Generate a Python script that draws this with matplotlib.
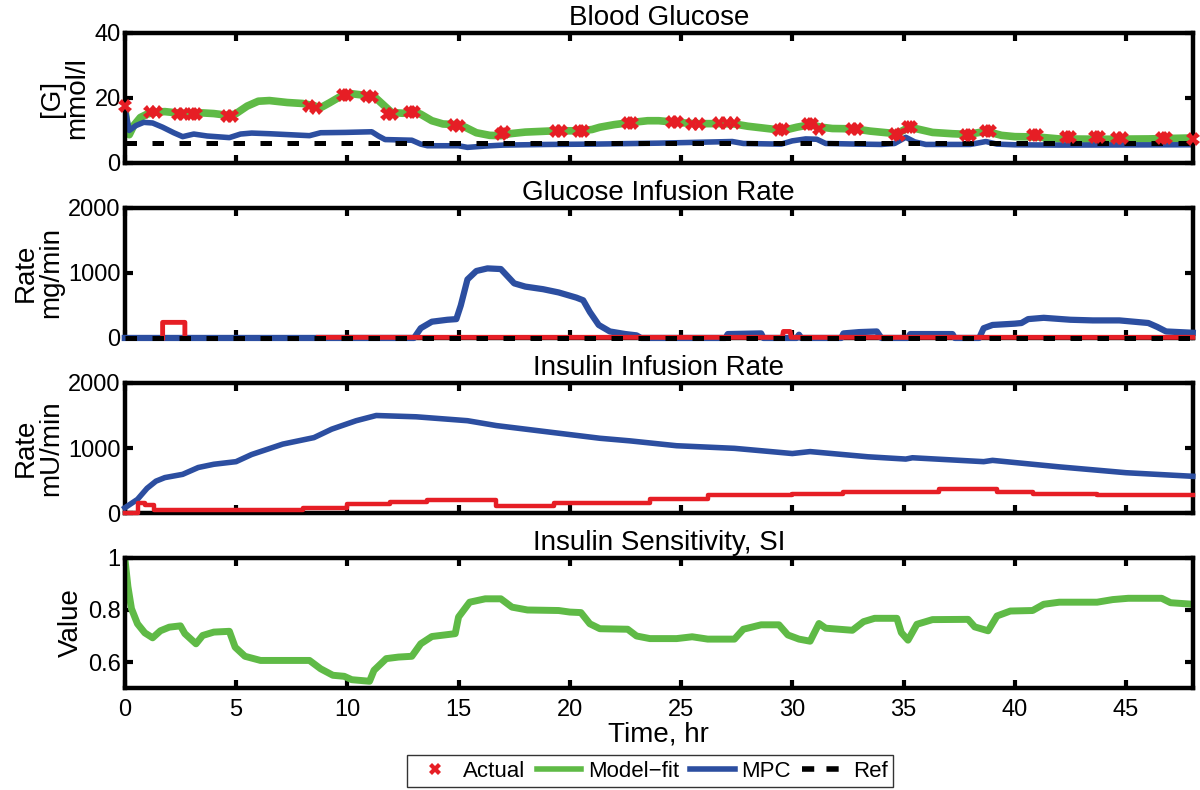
import numpy as np
import matplotlib
matplotlib.use("Agg")
import matplotlib.pyplot as plt
from matplotlib.lines import Line2D
from matplotlib.ticker import FuncFormatter

plt.rcParams['font.family'] = ['Liberation Sans', 'DejaVu Sans']

# colours
GREEN = '#5fba46'
BLUE = '#2c4ea0'
RED = '#e61e25'

# ---- Blood glucose (mmol/l) ----
bg_actual_t = [0, 1.15, 1.4, 2.4, 2.6, 3.0, 3.2, 4.6, 4.8, 8.3, 8.6, 9.8, 10.0, 10.9, 11.1,
               11.8, 12.0, 12.8, 13.0, 14.8, 15.0, 16.9, 17.05, 19.4, 19.6, 20.4, 20.6,
               22.6, 22.8, 24.6, 24.8, 25.5, 25.8, 26.7, 27.05, 27.4, 29.4, 29.6, 30.7,
               30.9, 31.2, 32.7, 32.9, 34.6, 34.8, 35.2, 35.35, 37.8, 38.0, 38.7, 38.9,
               40.8, 41.0, 42.3, 42.5, 43.6, 43.8, 44.6, 44.8, 46.6, 46.8, 48.0]
bg_actual_v = [17.6, 15.7, 15.7, 15.0, 15.0, 15.1, 15.1, 14.6, 14.6, 17.5, 17.0, 21.0, 21.0,
               20.5, 20.3, 15.2, 15.0, 15.8, 15.8, 11.8, 11.5, 9.0, 9.4, 9.7, 9.7, 9.7, 9.7,
               12.3, 12.3, 12.5, 12.5, 12.1, 12.1, 12.3, 12.3, 12.3, 10.0, 10.3, 12.0,
               12.0, 10.5, 10.3, 10.3, 9.0, 8.7, 11.0, 11.0, 8.7, 8.7, 9.7, 9.7,
               8.7, 8.7, 8.0, 8.0, 8.0, 8.0, 7.7, 7.7, 7.7, 7.7, 7.5]

bg_fit_t = [0, 0.1, 0.2, 0.4, 0.7, 1.0, 1.3, 1.8, 2.5, 3.0, 3.5, 4.0, 4.7, 5.0, 5.5, 6.0,
            6.5, 7.3, 8.0, 8.5, 8.8, 9.2, 9.7, 10.2, 10.8, 11.2, 11.6, 12.0, 12.5, 13.0,
            13.3, 13.8, 14.3, 14.9, 15.3, 15.8, 16.4, 16.9, 17.3, 18.0, 19.0, 19.5, 20.5,
            21.0, 21.35, 22.0, 22.7, 23.5, 24.0, 24.8, 25.6, 26.8, 27.4, 28.0, 29.0, 29.6,
            30.2, 30.8, 31.3, 31.8, 32.8, 33.5, 34.7, 35.2, 35.6, 36.3, 37.2, 37.9, 38.5,
            38.8, 39.4, 40.0, 41.0, 42.0, 44.0, 46.0, 48.0]
bg_fit_v = [17.0, 11.0, 8.7, 11.5, 14.0, 15.0, 15.6, 15.8, 15.3, 15.2, 15.4, 15.2, 14.6,
            15.2, 17.5, 19.0, 19.2, 18.6, 18.3, 17.6, 17.0, 18.5, 20.5, 21.3, 20.8, 20.5,
            18.0, 15.5, 15.3, 15.8, 15.0, 13.0, 12.0, 11.8, 11.0, 9.3, 8.5, 8.4, 9.0, 9.5,
            9.8, 9.9, 9.9, 10.3, 11.0, 11.8, 12.4, 13.0, 13.0, 12.5, 12.1, 12.1, 12.0, 11.3,
            10.5, 10.0, 11.0, 11.8, 11.0, 10.6, 10.5, 9.8, 9.0, 10.8, 10.5, 9.4, 9.0, 8.8,
            9.5, 9.6, 8.5, 8.1, 8.0, 7.4, 7.3, 7.4, 7.7]

bg_mpc_t = [0, 0.2, 0.5, 0.85, 1.25, 1.7, 2.2, 2.6, 3.1, 3.7, 4.7, 5.2, 5.7, 6.5, 8.3, 8.8,
            9.9, 11.1, 11.4, 11.7, 12.9, 13.3, 13.6, 15.0, 15.4, 16.2, 17.0, 19.0, 21.0,
            22.0, 24.0, 26.0, 27.3, 27.8, 29.5, 30.0, 30.6, 31.1, 31.5, 33.0, 34.0, 34.6,
            35.1, 35.5, 36.0, 38.0, 38.7, 39.2, 40.0, 42.0, 48.0]
bg_mpc_v = [17.0, 10.0, 11.5, 12.5, 12.3, 11.0, 9.3, 8.1, 8.9, 8.3, 7.8, 8.9, 9.2, 9.0, 8.4,
            9.3, 9.4, 9.6, 8.3, 7.2, 7.0, 5.8, 5.3, 5.3, 4.8, 5.2, 5.5, 5.7, 5.8,
            5.9, 6.1, 6.4, 6.6, 6.0, 5.8, 6.8, 7.4, 7.3, 6.0, 5.8, 5.7, 6.0,
            7.9, 6.5, 5.7, 5.7, 6.6, 5.8, 5.6, 5.5, 5.6]
bg_ref = 6.0

# ---- Glucose infusion rate (mg/min) ----
gir_mpc_t = [0, 13.0, 13.3, 13.8, 14.5, 14.9, 15.1, 15.4, 15.8, 16.3, 16.9, 17.2, 17.5, 18.0,
             18.8, 19.5, 20.3, 20.6, 20.9, 21.3, 21.8, 22.5, 23.0, 23.2, 27.0, 27.1, 28.6,
             28.7, 30.2, 30.3, 30.4, 32.2, 32.3, 33.0, 33.8, 34.0, 35.2, 35.3, 37.2, 37.3,
             38.4, 38.6, 39.0, 40.0, 40.3, 40.6, 41.3, 42.5, 43.5, 44.7, 46.0, 46.4, 46.8,
             48.0]
gir_mpc_v = [0, 0, 150, 250, 280, 290, 500, 900, 1030, 1070, 1060, 950, 840, 790,
             750, 700, 620, 580, 400, 200, 100, 60, 40, 0, 0, 60, 70,
             0, 0, 50, 0, 0, 70, 90, 100, 0, 0, 60, 60, 0,
             0, 150, 200, 220, 230, 290, 310, 280, 270, 270, 230, 170, 100,
             80]
gir_act_t = [1.7, 1.7, 2.7, 2.7, np.nan, 8.7, 29.55, 29.6, 29.9, 29.95, 48.0]
gir_act_v = [0, 240, 240, 0, np.nan, 10, 10, 100, 100, 10, 10]
gir_ref = 0.0

# ---- Insulin infusion rate (mU/min) ----
iir_mpc_t = [0, 0.57, 1.0, 1.4, 1.8, 2.6, 3.3, 4.0, 5.0, 5.7, 7.1, 8.5, 9.3, 10.4, 11.3,
             13.1, 15.4, 16.7, 19.2, 21.35, 22.7, 24.8, 27.4, 30.0, 30.8, 33.4, 35.1, 35.4,
             38.6, 39.0, 42.0, 45.0, 48.0]
iir_mpc_v = [80, 210, 380, 490, 545, 595, 700, 750, 790, 900, 1060, 1160, 1290, 1420, 1500,
             1480, 1420, 1345, 1240, 1150, 1110, 1035, 995, 915, 945, 865, 830, 850,
             790, 810, 710, 620, 565]
iir_act_t = [0, 0.6, 0.9, 1.3, 8.0, 10.0, 11.9, 13.6, 16.7, 19.3, 23.6, 26.2, 30.0, 32.3,
             36.6, 39.2, 40.8, 43.7, 48.0]
iir_act_v = [0, 160, 120, 50, 80, 140, 170, 205, 115, 160, 220, 270, 295, 325,
             370, 325, 285, 275, 275]

# ---- Insulin sensitivity SI ----
si_t = [0, 0.14, 0.3, 0.57, 0.9, 1.25, 1.6, 2.0, 2.5, 2.7, 3.2, 3.5, 4.0, 4.7, 4.96, 5.4,
        6.1, 8.3, 8.8, 9.35, 9.86, 10.2, 11.0, 11.2, 11.75, 12.3, 12.9, 13.3, 13.8, 14.85,
        15.0, 15.5, 16.2, 16.9, 17.4, 18.1, 19.5, 20.0, 20.5, 20.9, 21.35, 22.6, 23.0,
        23.6, 24.8, 25.5, 26.2, 27.4, 27.8, 28.6, 29.4, 29.8, 30.3, 30.8, 31.2, 31.5,
        32.7, 33.2, 33.7, 34.7, 34.9, 35.2, 35.6, 36.3, 37.9, 38.2, 38.8, 39.2, 39.8,
        40.8, 41.3, 42.0, 43.7, 44.4, 45.1, 46.6, 47.0, 48.0]
si_v = [1.0, 0.89, 0.805, 0.747, 0.712, 0.693, 0.72, 0.734, 0.739, 0.709, 0.670, 0.702,
        0.715, 0.718, 0.657, 0.622, 0.606, 0.606, 0.574, 0.549, 0.545, 0.532, 0.526, 0.568,
        0.613, 0.619, 0.622, 0.67, 0.698, 0.709, 0.773, 0.83, 0.843, 0.843, 0.811, 0.80,
        0.798, 0.792, 0.79, 0.747, 0.728, 0.726, 0.70, 0.69, 0.69, 0.697, 0.688, 0.688,
        0.726, 0.743, 0.743, 0.704, 0.688, 0.68, 0.748, 0.73, 0.722, 0.755, 0.768, 0.768,
        0.713, 0.684, 0.745, 0.763, 0.764, 0.735, 0.72, 0.777, 0.796, 0.798, 0.822, 0.83,
        0.83, 0.84, 0.845, 0.845, 0.828, 0.822]

x_ticks = [0, 5, 10, 15, 20, 25, 30, 35, 40, 45]

fig = plt.figure(figsize=(12, 7.9), dpi=100)
left, width, height = 0.104, 0.890, 0.1646
bottoms = [0.7937, 0.5722, 0.3506, 0.1291]
axes = [fig.add_axes([left, b, width, height]) for b in bottoms]

dash = (2.3, 3.1)

# blood glucose
ax = axes[0]
ax.plot(bg_fit_t, bg_fit_v, color=GREEN, lw=5.5)
ax.plot(bg_mpc_t, bg_mpc_v, color=BLUE, lw=4)
ax.axhline(bg_ref, color='black', lw=3.6, dashes=dash)
ax.plot(bg_actual_t, bg_actual_v, 'X', color=RED, ms=9.5, mew=0, clip_on=False, zorder=5)
ax.set_ylim(0, 40)
ax.set_yticks([0, 20, 40])
ax.set_title('Blood Glucose', fontsize=20, pad=6)
ax.set_ylabel('[G]\nmmol/l', fontsize=20, linespacing=0.95)

# glucose infusion (lines at zero are drawn over the axis line)
ax = axes[1]
ax.plot(gir_mpc_t, gir_mpc_v, color=BLUE, lw=4.5, clip_on=False, zorder=3)
ax.plot(gir_act_t, gir_act_v, color=RED, lw=3.5, clip_on=False, zorder=3.1)
ax.axhline(gir_ref, color='black', lw=3.6, dashes=dash, clip_on=False, zorder=3.2)
ax.set_ylim(0, 2000)
ax.set_yticks([0, 1000, 2000])
ax.set_title('Glucose Infusion Rate', fontsize=20, pad=6)
ax.set_ylabel('Rate\nmg/min', fontsize=20, linespacing=0.95)

# insulin infusion
ax = axes[2]
ax.plot(iir_mpc_t, iir_mpc_v, color=BLUE, lw=4, clip_on=False, zorder=3)
ax.plot(iir_act_t, iir_act_v, color=RED, lw=3.2, drawstyle='steps-post',
        clip_on=False, zorder=3.1)
ax.set_ylim(0, 2000)
ax.set_yticks([0, 1000, 2000])
ax.set_title('Insulin Infusion Rate', fontsize=20, pad=6)
ax.set_ylabel('Rate\nmU/min', fontsize=20, linespacing=0.95)

# insulin sensitivity
ax = axes[3]
ax.plot(si_t, si_v, color=GREEN, lw=5)
ax.set_ylim(0.5, 1)
ax.set_yticks([0.6, 0.8, 1.0])
ax.yaxis.set_major_formatter(FuncFormatter(lambda v, p: '%g' % v))
ax.set_title('Insulin Sensitivity, SI', fontsize=20, pad=6)
ax.set_ylabel('Value', fontsize=20)
ax.set_xlabel('Time, hr', fontsize=20, labelpad=0)

for i, ax in enumerate(axes):
    ax.set_xlim(0, 48)
    ax.set_xticks(x_ticks)
    for s in ax.spines.values():
        s.set_linewidth(3.2)
    ax.tick_params(direction='in', length=6, width=3, top=True, right=True,
                   labelsize=17, pad=3)
    ax.tick_params(axis='x', pad=8)
    if i < 3:
        ax.set_xticklabels([])
    ax.yaxis.labelpad = 3

handles = [Line2D([], [], ls='none', marker='X', color=RED, ms=9, mew=0),
           Line2D([], [], color=GREEN, lw=4),
           Line2D([], [], color=BLUE, lw=4),
           Line2D([], [], color='black', lw=4, dashes=(2.2, 2.2))]
leg = fig.legend(handles, ['Actual', 'Model\u2212fit', 'MPC', 'Ref'], loc='center',
                 bbox_to_anchor=(0.5417, 0.0235), ncol=4, fontsize=16, frameon=True,
                 fancybox=False, edgecolor='black', handlelength=2.0, handletextpad=0.3,
                 columnspacing=0.5, borderpad=0.25, borderaxespad=0)
leg.get_frame().set_linewidth(1)

fig.savefig('out.png', dpi=100)
